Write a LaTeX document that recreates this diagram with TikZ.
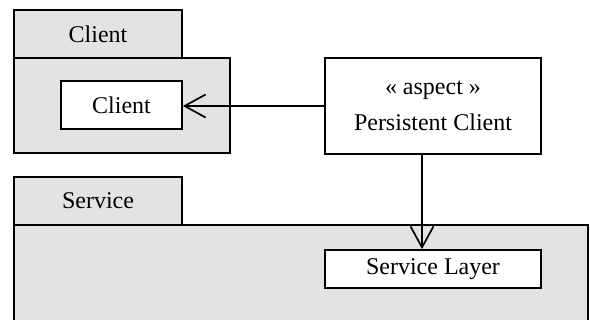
\documentclass[tikz,border=0pt]{standalone}
\usepackage{fontspec}
\setmainfont{Liberation Serif}
\usetikzlibrary{arrows.meta}
\definecolor{pkgfill}{HTML}{E3E3E3}

\begin{document}
\begin{tikzpicture}[x=1pt, y=-1pt,
                    line width=1.7pt,
                    font=\fontsize{24}{36}\selectfont,
                    box/.style={draw, rectangle, inner sep=0, fill=white},
                    pkg/.style={box, fill=pkgfill},
                    dep/.style={-{Straight Barb[length=21pt, width=23pt, line width=1.7pt]}}]
                \useasboundingbox (0,0) rectangle (590,320);
                \clip (0,0) rectangle (590,320);

                \node (clienttab) [pkg, minimum width=168pt, minimum height=48pt] at (98,34) {Client};
                \node (clientpkg) [pkg, minimum width=216pt, minimum height=95pt] at (122,105.5) {};
                \node (client) [box, minimum width=121pt, minimum height=48pt] at (121.5,105) {Client};

                \node (aspect) [box, align=center, minimum width=216pt, minimum height=96pt] at (433,106)
                      {« aspect »\\Persistent Client};

                \node (servicetab) [pkg, minimum width=168pt, minimum height=48pt] at (98,201) {Service};
                \node (servicepkg) [pkg, minimum width=574pt, minimum height=110pt] at (301,280) {};
                \node (servicelayer) [box, minimum width=216pt, minimum height=38pt] at (433,269) {Service Layer};

                \draw [dep] (aspect.west) -- (aspect.west -| client.east);
                \draw [dep] ([xshift=-11pt]aspect.south) -- ([xshift=-11pt]servicelayer.north);
            \end{tikzpicture}
\end{document}
